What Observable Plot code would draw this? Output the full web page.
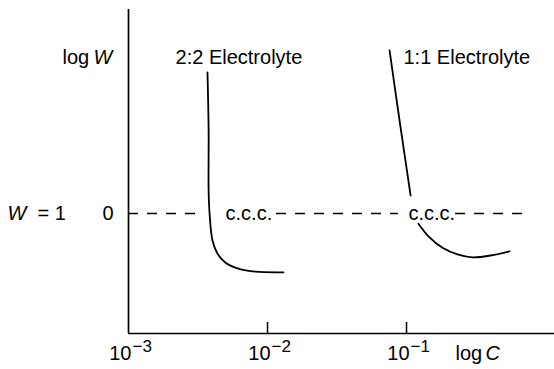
<!DOCTYPE html>
<html>
<head>
<meta charset="utf-8">
<script src="https://cdn.jsdelivr.net/npm/d3@7"></script>
<script src="https://cdn.jsdelivr.net/npm/@observablehq/plot@0.6"></script>
<style>
  html, body { margin: 0; padding: 0; background: #fff; }
</style>
</head>
<body>
<div id="chart"></div>
<script>
// ---- data ----
// 2:2 electrolyte curve (C, log W)
const c22 = [0.00370, 0.00377, 0.00377, 0.00383, 0.00402, 0.00437, 0.00499, 0.00618, 0.00820, 0.01303];
const w22 = [2.35, 1.38, 0.38, 0, -0.45, -0.67, -0.82, -0.92, -0.97, -0.98];
// 1:1 electrolyte curve, above and below the c.c.c. label
const c11a = [0.0755, 0.0891, 0.107];
const w11a = [2.72, 1.55, 0.30];
const c11b = [0.1219, 0.1439, 0.1815, 0.2328, 0.2985, 0.4018, 0.5505];
const w11b = [-0.17, -0.38, -0.57, -0.68, -0.73, -0.70, -0.63];
// W = 1 (log W = 0) dashed reference, broken around labels/curves
const dashStart = [0.001, 0.01161, 0.2254];
const dashEnd = [0.00324, 0.0875, 0.780];
// x ticks
const tickValues = [0.001, 0.01, 0.1];
const tickExponents = ["\u22123", "\u22122", "\u22121"];
const innerTicks = [0.01, 0.1];
// labels
const seriesLabels = ["2:2 Electrolyte", "1:1 Electrolyte"];
const seriesLabelC = [0.00218, 0.0951];
const seriesLabelW = [2.6, 2.6];
const cccC = [0.00499, 0.1033];

// ---- build tables ----
const lines = [
  ...c22.map((c, i) => ({series: "2:2", c, w: w22[i]})),
  ...c11a.map((c, i) => ({series: "1:1a", c, w: w11a[i]})),
  ...c11b.map((c, i) => ({series: "1:1b", c, w: w11b[i]}))
];
const dashes = dashStart.map((s, i) => ({x1: s, x2: dashEnd[i]}));
const ticks = tickValues.map((v, i) => ({v, e: tickExponents[i]}));
const sLabels = seriesLabels.map((t, i) => ({t, c: seriesLabelC[i], w: seriesLabelW[i]}));

const FONT = "'Liberation Sans', Arial, Helvetica, sans-serif";
const FS = 20;

const chart = Plot.plot({
  width: 554,
  height: 369,
  marginLeft: 128,
  marginRight: 0,
  marginTop: 9,
  marginBottom: 36,
  style: {fontFamily: FONT, fontSize: FS + "px", background: "#fff", color: "#000"},
  x: {type: "log", domain: [0.001, 1.16], axis: null},
  y: {domain: [-2, 3.4], axis: null},
  marks: [
    // axes
    Plot.ruleX([0.001], {stroke: "#000", strokeWidth: 1.7}),
    Plot.ruleY([-2], {stroke: "#000", strokeWidth: 1.7}),
    Plot.ruleX(innerTicks, {stroke: "#000", strokeWidth: 1.5, insetTop: 313}),
    // tick labels 10^n
    Plot.text(ticks, {x: "v", text: () => "10", frameAnchor: "bottom", textAnchor: "end", dx: 3, dy: 26, fontSize: FS}),
    Plot.text(ticks, {x: "v", text: "e", frameAnchor: "bottom", textAnchor: "start", dx: 4, dy: 18, fontSize: 17}),
    // axis titles
    Plot.text(["log"], {frameAnchor: "bottom-right", textAnchor: "start", dx: -99, dy: 26, fontSize: FS}),
    Plot.text(["C"], {frameAnchor: "bottom-right", textAnchor: "start", dx: -69, dy: 26, fontSize: FS, fontStyle: "italic"}),
    Plot.text(["log"], {y: () => 2.6, frameAnchor: "left", textAnchor: "start", dx: -66, fontSize: FS}),
    Plot.text(["W"], {y: () => 2.6, frameAnchor: "left", textAnchor: "start", dx: -35, fontSize: FS, fontStyle: "italic"}),
    Plot.text(["W"], {y: () => 0, frameAnchor: "left", textAnchor: "start", dx: -121, fontSize: FS, fontStyle: "italic"}),
    Plot.text(["= 1"], {y: () => 0, frameAnchor: "left", textAnchor: "start", dx: -91, fontSize: FS}),
    Plot.text(["0"], {y: () => 0, frameAnchor: "left", textAnchor: "end", dx: -15, fontSize: FS}),
    // dashed W = 1 line
    Plot.ruleY(dashes, {y: () => 0, x1: "x1", x2: "x2", stroke: "#000", strokeWidth: 1.4, strokeDasharray: "10,9"}),
    // curves
    Plot.line(lines, {x: "c", y: "w", z: "series", curve: "catmull-rom", stroke: "#000", strokeWidth: 1.8}),
    // labels
    Plot.text(sLabels, {x: "c", y: "w", text: "t", textAnchor: "start", fontSize: FS}),
    Plot.text(cccC, {x: d => d, y: () => 0, text: () => "c.c.c.", textAnchor: "start", fontSize: FS})
  ]
});
document.getElementById("chart").appendChild(chart);
</script>
</body>
</html>
